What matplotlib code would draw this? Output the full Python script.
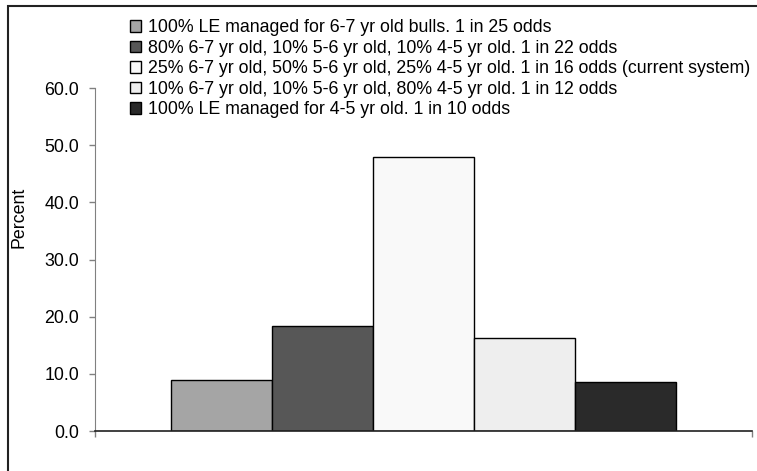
import matplotlib
matplotlib.use("Agg")
import matplotlib.pyplot as plt
from matplotlib.patches import Rectangle

plt.rcParams['font.family'] = ['Liberation Sans', 'DejaVu Sans']

labels = [
    "100% LE managed for 6-7 yr old bulls. 1 in 25 odds",
    "80% 6-7 yr old, 10% 5-6 yr old, 10% 4-5 yr old. 1 in 22 odds",
    "25% 6-7 yr old, 50% 5-6 yr old, 25% 4-5 yr old. 1 in 16 odds (current system)",
    "10% 6-7 yr old, 10% 5-6 yr old, 80% 4-5 yr old. 1 in 12 odds",
    "100% LE managed for 4-5 yr old. 1 in 10 odds",
]
values = [8.9, 18.4, 47.9, 16.3, 8.6]
colors = ['#a5a5a5', '#575757', '#f9f9f9', '#eeeeee', '#2a2a2a']
yticks = [0, 10, 20, 30, 40, 50, 60]

W, H = 757, 471
fig = plt.figure(figsize=(W / 100, H / 100), dpi=100)

# outer chart frame
fig.patches.append(Rectangle((8 / W, -0.1), 1.2, 1 - 6 / H + 0.1, transform=fig.transFigure,
                             fill=False, edgecolor='#222222', linewidth=1.5))

ax = fig.add_axes([95 / W, 40 / H, (752 - 95) / W, (431 - 88) / H])
n = len(values)
gap = 1.5
w = 1.0 / (n + gap)
fs = 12.8
handles = []
for i, (v, c, lab) in enumerate(zip(values, colors, labels)):
    x = (i - (n - 1) / 2) * w
    b = ax.bar(x, v, width=w, color=c, edgecolor='black', linewidth=1.0, label=lab)
    handles.append(b)

ax.set_xlim(-0.5, 0.5)
ax.set_ylim(0, 60)
ax.set_yticks(yticks)
ax.set_yticklabels([f"{t:.1f}" for t in yticks], fontsize=fs)
ax.set_xticks([-0.5, 0.5])
ax.set_xticklabels([])
ax.tick_params(axis='y', direction='out', length=4.5, width=1, color='#808080', pad=7)
ax.tick_params(axis='x', direction='out', length=4.5, width=1, color='#808080')
for s in ['top', 'right']:
    ax.spines[s].set_visible(False)
ax.spines['left'].set_color('#808080')
ax.spines['bottom'].set_color('#202020')
ax.spines['bottom'].set_linewidth(1.2)
ax.set_ylabel("Percent", fontsize=fs)
ax.yaxis.set_label_coords((28 - 95) / (752 - 95), (431 - 217) / (431 - 88))
ax.patch.set_alpha(0)

fig.legend(handles=handles, labels=labels, loc='upper left',
           bbox_to_anchor=(130 / W, 1 - 19 / H), frameon=False, fontsize=fs,
           handlelength=0.62, handleheight=0.62, handletextpad=0.4,
           labelspacing=0.2, borderpad=0, borderaxespad=0)

fig.savefig("out.png", dpi=100)
